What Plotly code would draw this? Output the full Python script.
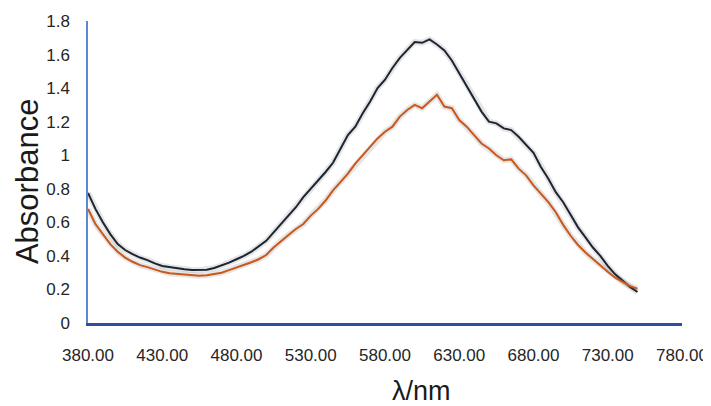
import plotly.graph_objects as go

# wavelength grid (nm) and absorbance
wavelength = [380, 385, 390, 395, 400, 405, 410, 415, 420, 425, 430, 435, 440, 445, 450,
              455, 460, 465, 470, 475, 480, 485, 490, 495, 500, 505, 510, 515, 520, 525,
              530, 535, 540, 545, 550, 555, 560, 565, 570, 575, 580, 585, 590, 595, 600,
              605, 610, 615, 620, 625, 630, 635, 640, 645, 650, 655, 660, 665, 670, 675,
              680, 685, 690, 695, 700, 705, 710, 715, 720, 725, 730, 735, 740, 745, 750]

abs_black = [0.775, 0.68, 0.60, 0.53, 0.47, 0.435, 0.41, 0.39, 0.375, 0.355, 0.34, 0.332, 0.325, 0.32, 0.316,
             0.315, 0.318, 0.328, 0.342, 0.36, 0.38, 0.40, 0.425, 0.455, 0.49, 0.54, 0.59, 0.64, 0.69, 0.75,
             0.80, 0.845, 0.90, 0.955, 1.04, 1.12, 1.17, 1.25, 1.32, 1.40, 1.45, 1.52, 1.58, 1.63, 1.675,
             1.67, 1.69, 1.66, 1.625, 1.565, 1.49, 1.41, 1.34, 1.26, 1.20, 1.19, 1.16, 1.15, 1.11, 1.06,
             1.015, 0.93, 0.86, 0.78, 0.72, 0.645, 0.57, 0.51, 0.45, 0.40, 0.34, 0.29, 0.25, 0.215, 0.185]

abs_orange = [0.68, 0.59, 0.53, 0.47, 0.425, 0.39, 0.365, 0.345, 0.333, 0.318, 0.305, 0.297, 0.292, 0.287, 0.282,
              0.281, 0.285, 0.292, 0.30, 0.315, 0.33, 0.345, 0.362, 0.38, 0.405, 0.45, 0.49, 0.525, 0.56, 0.59,
              0.64, 0.68, 0.73, 0.79, 0.84, 0.89, 0.95, 1.00, 1.045, 1.10, 1.14, 1.17, 1.23, 1.27, 1.30,
              1.28, 1.32, 1.36, 1.29, 1.28, 1.21, 1.17, 1.12, 1.07, 1.04, 1.00, 0.97, 0.975, 0.92, 0.88,
              0.82, 0.77, 0.72, 0.66, 0.585, 0.52, 0.465, 0.42, 0.38, 0.345, 0.305, 0.27, 0.245, 0.22, 0.205]

x_ticks = [380, 430, 480, 530, 580, 630, 680, 730, 780]

tick_font = dict(family="Liberation Sans, Arial, sans-serif", size=17, color="#262626")

fig = go.Figure()

# faint shadow under each curve
for ys in (abs_black, abs_orange):
    fig.add_trace(
        go.Scatter(
            x=wavelength,
            y=ys,
            mode="lines",
            line=dict(color="rgba(0,0,0,0.10)", width=6),
            showlegend=False,
            hoverinfo="skip",
        )
    )

fig.add_trace(
    go.Scatter(
        x=wavelength,
        y=abs_black,
        mode="lines",
        name="sample 1",
        line=dict(color="#1c2533", width=2),
        showlegend=False,
    )
)
fig.add_trace(
    go.Scatter(
        x=wavelength,
        y=abs_orange,
        mode="lines",
        name="sample 2",
        line=dict(color="#c9581a", width=2),
        showlegend=False,
    )
)

# page body adds an 8px offset, so the figure is a bit smaller than the window
fig.update_layout(
    template="none",
    width=703,
    height=398,
    margin=dict(l=80, r=29, t=13, b=83, autoexpand=False),
    paper_bgcolor="white",
    plot_bgcolor="white",
    annotations=[
        dict(
            text="Absorbance",
            xref="paper", yref="paper",
            x=-0.1027, y=0.47,
            xanchor="center", yanchor="middle",
            textangle=-90,
            showarrow=False,
            font=dict(family="Liberation Sans, Arial, sans-serif", size=31, color="#1a1a1a"),
        ),
        dict(
            text="λ/nm",
            xref="paper", yref="paper",
            x=0.562, y=-0.226,
            xanchor="center", yanchor="middle",
            showarrow=False,
            font=dict(family="Liberation Sans, Arial, sans-serif", size=27, color="#1a1a1a"),
        ),
    ],
)

fig.update_xaxes(
    range=[380, 780],
    tickvals=x_ticks,
    ticktext=["{:.2f}".format(v) for v in x_ticks],
    showgrid=False,
    zeroline=False,
    showline=True,
    linecolor="#2d4f9e",
    linewidth=2.5,
    ticks="",
    ticklabelstandoff=15,
    ticklabeloverflow="allow",
    automargin=False,
    tickfont=tick_font,
)
fig.update_yaxes(
    range=[0, 1.8],
    dtick=0.2,
    tick0=0,
    showgrid=False,
    zeroline=False,
    showline=True,
    linecolor="#5a8ad6",
    linewidth=1.5,
    ticks="",
    ticklabelstandoff=13,
    automargin=False,
    tickfont=tick_font,
)

fig.write_html("out.html")
